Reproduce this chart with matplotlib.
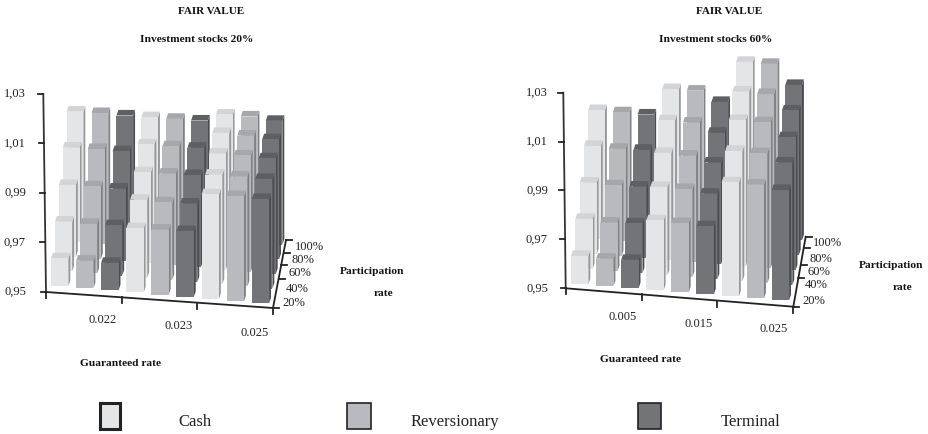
import numpy as np
import matplotlib
matplotlib.use('Agg')
import matplotlib.pyplot as plt
from matplotlib.patches import Polygon, Rectangle

plt.rcParams['font.family'] = ['Liberation Serif', 'DejaVu Sans']

# filas = participation rate (20% -> 100%), columnas = guaranteed rate
part_labels = ['20%', '40%', '60%', '80%', '100%']
y_labels = ['0,95', '0,97', '0,99', '1,01', '1,03']
y_ticks = [0.95, 0.97, 0.99, 1.01, 1.03]
names = ['Cash', 'Reversionary', 'Terminal']

rates_a = ['0.022', '0.023', '0.025']
cash_a = [[.9612, .9760, .9924], [.9701, .9816, .9944], [.9790, .9868, .9970], [.9882, .9921, .9994], [.9968, .9972, 1.0009]]
rev_a = [[.9611, .9763, .9925], [.9701, .9814, .9945], [.9793, .9871, .9971], [.9885, .9922, .9992], [.9971, .9974, 1.0010]]
term_a = [[.9611, .9766, .9922], [.9704, .9818, .9944], [.9793, .9874, .9968], [.9885, .9925, .9986], [.9970, .9976, 1.0001]]

rates_b = ['0.005', '0.015', '0.025']
cash_b = [[.9616, .9786, .9966], [.9706, .9861, 1.0033], [.9793, .9939, 1.0098], [.9882, 1.0011, 1.0153], [.9967, 1.0077, 1.0213]]
rev_b = [[.9613, .9783, .9965], [.9699, .9861, 1.0032], [.9790, .9936, 1.0097], [.9878, 1.0010, 1.0151], [.9966, 1.0079, 1.0213]]
term_b = [[.9616, .9778, .9951], [.9704, .9850, 1.0002], [.9793, .9916, 1.0044], [.9882, .9976, 1.0092], [.9965, 1.0041, 1.0135]]

# front, top, side
colores = [('#e4e5e7', '#d3d4d6', '#98989b'),
           ('#b9babd', '#a6a7aa', '#7f8083'),
           ('#737477', '#5e5f62', '#4b4c4f')]

fig = plt.figure(figsize=(9.29, 4.34), dpi=100)
ax = fig.add_axes([0, 0, 1, 1])
ax.set_xlim(0, 929)
ax.set_ylim(434, 0)
ax.axis('off')


def panel(datos, rates, f0, f8, b0, b8, px_unit, y_axis, front, depth, dticks, xlab_pos, ylab_x, ptick_pos):
    datos = np.array(datos)  # serie, fila, grupo
    n_filas = datos.shape[1]

    def suelo(c, r):
        u, v = c / 8, r / (n_filas - 1)
        p = (1-u)*(1-v)*np.array(f0) + u*(1-v)*np.array(f8) + (1-u)*v*np.array(b0) + u*v*np.array(b8)
        return p

    # de atras hacia adelante
    for r in range(n_filas - 1, -1, -1):
        w = 17.4 - 0.7 * r / (n_filas - 1)
        for c in range(9):
            s = c % 3
            g = c // 3
            x, y = suelo(c, r)
            h = (datos[s, r, g] - 0.95) * px_unit
            dx, dy = 1.9, -5.6
            fr, tp, sd = colores[s]
            ax.add_patch(Polygon([(x+w, y), (x+w+dx, y+dy), (x+w+dx, y+dy-h), (x+w, y-h)], fc=sd, ec='none', zorder=2))
            ax.add_patch(Polygon([(x, y-h), (x+dx, y-h+dy), (x+w+dx, y-h+dy), (x+w, y-h)], fc=tp, ec='none', zorder=2))
            ax.add_patch(Rectangle((x, y-h), w, h, fc=fr, ec='none', zorder=2))

    # eje y
    ax.plot([y_axis[0][0], y_axis[1][0]], [y_axis[0][1], y_axis[1][1]], color='#333333', lw=1.3, zorder=3)
    for i, t in enumerate(y_ticks):
        f = (t - 0.95) / 0.08
        xt = y_axis[1][0] + (y_axis[0][0] - y_axis[1][0]) * f
        yt = y_axis[1][1] + (y_axis[0][1] - y_axis[1][1]) * f
        ax.plot([xt - 5, xt], [yt, yt], color='#222222', lw=1.3, zorder=3)
        ax.text(ylab_x, yt, y_labels[i], ha='right', va='center', fontsize=9, color='#222222')

    # eje x
    ax.plot([front[0][0], front[1][0]], [front[0][1], front[1][1]], color='#222222', lw=1.3, zorder=3)
    for k in range(4):
        xt = front[0][0] + (front[1][0] - front[0][0]) * k / 3
        yt = front[0][1] + (front[1][1] - front[0][1]) * k / 3
        ax.plot([xt, xt], [yt, yt + 6], color='#222222', lw=1.3, zorder=3)
    for k in range(3):
        ax.text(xlab_pos[k][0], xlab_pos[k][1], rates[k], ha='center', va='center', fontsize=9, color='#222222')

    # eje de profundidad
    ax.plot([depth[0][0], depth[1][0]], [depth[0][1], depth[1][1]], color='#222222', lw=1.3, zorder=3)
    for yt in dticks:
        f = (depth[0][1] - yt) / (depth[0][1] - depth[1][1])
        xt = depth[0][0] + (depth[1][0] - depth[0][0]) * f
        ax.plot([xt, xt + 6], [yt, yt], color='#222222', lw=1.3, zorder=3)
    for i in range(5):
        ax.text(ptick_pos[i][0], ptick_pos[i][1], part_labels[i], ha='center', va='center', fontsize=9, color='#222222')


panel([cash_a, rev_a, term_a], rates_a,
      (51, 286), (251.7, 303.3), (66.7, 227.3), (265.7, 244.7), 2471,
      ((43.3, 94), (46, 292)), ((46, 292), (273, 308)), ((273, 308), (286, 240)), [308, 279, 265, 252.7, 240],
      [(103, 320), (179, 326), (255, 333)], 26,
      [(294, 303), (297, 289), (300, 273), (303, 260), (309, 247)])

panel([cash_b, rev_b, term_b], rates_b,
      (571, 284.3), (771.7, 300.3), (588.3, 224.3), (785.3, 240.3), 2446,
      ((563.3, 92.7), (565.7, 288.3)), ((565.7, 288.3), (793.3, 306.7)), ((793.3, 306.7), (805.7, 236.7)), [306.7, 278, 265, 248, 236.7],
      [(623, 317), (699, 324), (774, 329)], 548,
      [(814, 301), (816, 285), (819, 272), (821, 259), (827, 243)])

# titulos
for x1, x2, txt in [(211, 196.5, 'Investment stocks 20%'), (729, 715.5, 'Investment stocks 60%')]:
    ax.text(x1, 12, 'FAIR VALUE', ha='center', va='center', fontsize=8, fontweight='bold', color='#111111')
    ax.text(x2, 39, txt, ha='center', va='center', fontsize=8.2, fontweight='bold', color='#111111')

ax.text(121, 364, 'Guaranteed rate', ha='center', va='center', fontsize=8.2, fontweight='bold', color='#111111')
ax.text(641, 360, 'Guaranteed rate', ha='center', va='center', fontsize=8.2, fontweight='bold', color='#111111')
ax.text(372, 271, 'Participation', ha='center', va='center', fontsize=8.2, fontweight='bold', color='#111111')
ax.text(383, 294, 'rate', ha='center', va='center', fontsize=8.2, fontweight='bold', color='#111111')
ax.text(891, 265, 'Participation', ha='center', va='center', fontsize=8.2, fontweight='bold', color='#111111')
ax.text(902, 288, 'rate', ha='center', va='center', fontsize=8.2, fontweight='bold', color='#111111')

# leyenda
ley_x = [(100, 20, 2.2), (347, 24, 1.2), (638, 23, 1.2)]
ley_txt = [195, 455, 751]
for i in range(3):
    x, w, lw = ley_x[i]
    ax.add_patch(Rectangle((x, 403), w, 26, fc=colores[i][0], ec='#222222', lw=lw))
    ax.text(ley_txt[i], 422, names[i], ha='center', va='center', fontsize=12, color='#222222')

fig.savefig('out.png', dpi=100)
